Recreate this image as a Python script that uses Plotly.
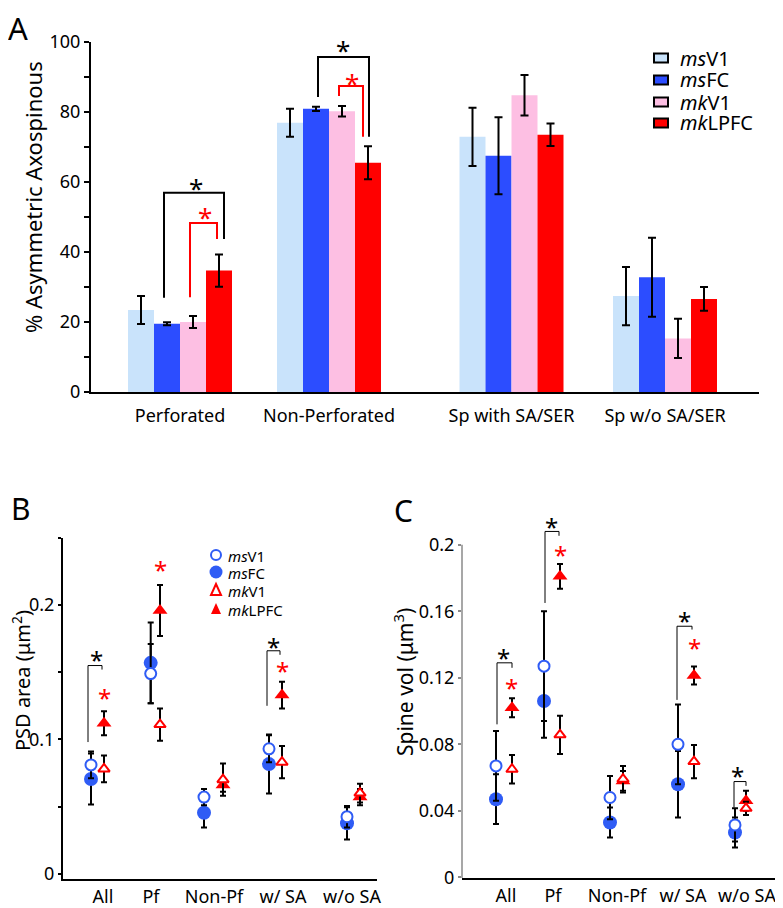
import plotly.graph_objects as go

# The page body adds an 8 px offset; figure is sized so the visible
# viewport (783x908) matches the reference layout.
OFF = 8
W, H = 783 - OFF, 908 - OFF
def px(x): return (x - OFF) / W
def py(y): return 1 - (y - OFF) / H

FONT = "Noto Sans"

# ---------------- Data ----------------
series_labels = ["<i>ms</i>V1", "<i>ms</i>FC", "<i>mk</i>V1", "<i>mk</i>LPFC"]

# Panel A: % asymmetric axospinous
groups_A = ["Perforated", "Non-Perforated", "Sp with SA/SER", "Sp w/o SA/SER"]
msV1_A = [23.4, 76.9, 72.9, 27.4]
msV1_A_err = [4.0, 4.0, 8.3, 8.3]
msFC_A = [19.5, 80.9, 67.5, 32.8]
msFC_A_err = [0.4, 0.6, 11.0, 11.3]
mkV1_A = [20.0, 80.2, 84.8, 15.3]
mkV1_A_err = [1.7, 1.5, 5.8, 5.6]
mkLPFC_A = [34.7, 65.5, 73.5, 26.6]
mkLPFC_A_err = [4.6, 4.7, 3.2, 3.4]

# Panel B: PSD area (um^2)
cats_B = ["All", "Pf", "Non-Pf", "w/ SA", "w/o SA"]
msV1_B = [0.081, 0.149, 0.057, 0.093, 0.0424]
msV1_B_err = [0.010, 0.022, 0.006, 0.010, 0.008]
msFC_B = [0.0705, 0.157, 0.0454, 0.0816, 0.0375]
msFC_B_err = [0.019, 0.030, 0.011, 0.022, 0.012]
mkV1_B = [0.078, 0.111, 0.070, 0.083, 0.060]
mkV1_B_err = [0.010, 0.012, 0.012, 0.012, 0.007]
mkLPFC_B = [0.112, 0.196, 0.066, 0.133, 0.057]
mkLPFC_B_err = [0.009, 0.019, 0.005, 0.010, 0.006]

# Panel C: spine volume (um^3)
cats_C = ["All", "Pf", "Non-Pf", "w/ SA", "w/o SA"]
msV1_C = [0.067, 0.127, 0.048, 0.080, 0.0315]
msV1_C_err = [0.021, 0.033, 0.013, 0.024, 0.010]
msFC_C = [0.047, 0.106, 0.033, 0.056, 0.027]
msFC_C_err = [0.015, 0.022, 0.009, 0.020, 0.009]
mkV1_C = [0.065, 0.0857, 0.059, 0.0696, 0.0415]
mkV1_C_err = [0.0085, 0.0115, 0.008, 0.010, 0.004]
mkLPFC_C = [0.102, 0.181, 0.058, 0.1214, 0.046]
mkLPFC_C_err = [0.0057, 0.0075, 0.006, 0.0054, 0.006]

# ---------------- Layout constants ----------------
LIGHTBLUE = "#c9e3fb"
BLUE_BAR = "#2c4dff"
PINK = "#fdbfe3"
RED = "#ff0000"
BLUE = "#2f5cf5"

centers_A = [180, 329, 511.5, 665]       # group centres (axis units = px)
BAR_W = 26
blue_x_B = [91, 150.7, 204, 269, 347]
red_x_B = [104, 160, 223, 282, 360]
label_x_B = [103, 151, 214, 283, 352]
blue_x_C = [496, 544, 610, 678, 735]
red_x_C = [512, 560, 623, 694, 746]
label_x_C = [506, 553, 617, 683, 747]

fig = go.Figure()

# ---- Panel A bars ----
bar_series = [
    (msV1_A, msV1_A_err, LIGHTBLUE),
    (msFC_A, msFC_A_err, BLUE_BAR),
    (mkV1_A, mkV1_A_err, PINK),
    (mkLPFC_A, mkLPFC_A_err, RED),
]
for i, (vals, errs, col) in enumerate(bar_series):
    fig.add_trace(go.Bar(
        x=[c + (i - 1.5) * BAR_W for c in centers_A], y=vals, width=BAR_W,
        marker=dict(color=col, line=dict(width=0)),
        error_y=dict(type="data", array=errs, color="black", thickness=2, width=4),
        xaxis="x", yaxis="y", showlegend=False, name=series_labels[i]))

# ---- Panels B and C points ----
def add_points(bx, rx, v1, v1e, fc, fce, mv1, mv1e, lp, lpe, xa, ya):
    err = lambda a: dict(type="data", array=a, color="black", thickness=2, width=3)
    fig.add_trace(go.Scatter(x=bx, y=fc, mode="markers", error_y=err(fce),
        marker=dict(symbol="circle", size=14, color=BLUE, line=dict(width=0)),
        xaxis=xa, yaxis=ya, showlegend=False, cliponaxis=False))
    fig.add_trace(go.Scatter(x=bx, y=v1, mode="markers", error_y=err(v1e),
        marker=dict(symbol="circle", size=11, color="white", line=dict(color=BLUE, width=2)),
        xaxis=xa, yaxis=ya, showlegend=False, cliponaxis=False))
    fig.add_trace(go.Scatter(x=rx, y=lp, mode="markers", error_y=err(lpe),
        marker=dict(symbol="triangle-up", size=13, color=RED, line=dict(width=0)),
        xaxis=xa, yaxis=ya, showlegend=False, cliponaxis=False))
    fig.add_trace(go.Scatter(x=rx, y=mv1, mode="markers", error_y=err(mv1e),
        marker=dict(symbol="triangle-up", size=10, color="white", line=dict(color=RED, width=2)),
        xaxis=xa, yaxis=ya, showlegend=False, cliponaxis=False))

add_points(blue_x_B, red_x_B, msV1_B, msV1_B_err, msFC_B, msFC_B_err,
           mkV1_B, mkV1_B_err, mkLPFC_B, mkLPFC_B_err, "x2", "y2")
add_points(blue_x_C, red_x_C, msV1_C, msV1_C_err, msFC_C, msFC_C_err,
           mkV1_C, mkV1_C_err, mkLPFC_C, mkLPFC_C_err, "x3", "y3")

shapes = []
annotations = []

def bracket(xl, yl, yt, xr, yr, col, w, xref, yref):
    shapes.append(dict(type="path", xref=xref, yref=yref,
                       path=f"M {xl},{yl} L {xl},{yt} L {xr},{yt} L {xr},{yr}",
                       line=dict(color=col, width=w)))

def star(x, y, col, size, xref, yref):
    annotations.append(dict(text="*", x=x, y=y, xref=xref, yref=yref, showarrow=False,
                            font=dict(family=FONT, size=size, color=col),
                            xanchor="center", yanchor="middle", yshift=-int(size * 0.22)))

# Panel A brackets
bracket(164, 26.9, 56.9, 224, 43.7, "black", 2, "x", "y")
bracket(190, 27.1, 48.3, 217, 43.7, RED, 2, "x", "y")
star(196, 59.7, "black", 26, "x", "y")
star(205, 51.4, RED, 26, "x", "y")
bracket(318, 84.3, 95.7, 369, 72.9, "black", 2, "x", "y")
bracket(339, 84.6, 87.4, 363, 72.9, RED, 2, "x", "y")
star(343, 99.1, "black", 26, "x", "y")
star(352, 89.7, RED, 26, "x", "y")

# Panel B brackets
bracket(88, 0.098, 0.155, 102, 0.152, "black", 1, "x2", "y2")
star(96, 0.163, "black", 24, "x2", "y2")
star(104, 0.1347, RED, 24, "x2", "y2")
star(160, 0.2305, RED, 24, "x2", "y2")
bracket(267, 0.125, 0.166, 280, 0.163, "black", 1, "x2", "y2")
star(273, 0.1726, "black", 24, "x2", "y2")
star(282, 0.155, RED, 24, "x2", "y2")

# Panel C brackets
bracket(497, 0.092, 0.129, 512, 0.126, "black", 1, "x3", "y3")
star(503, 0.135, "black", 24, "x3", "y3")
star(511, 0.117, RED, 24, "x3", "y3")
bracket(545, 0.165, 0.208, 559, 0.2054, "black", 1, "x3", "y3")
star(551, 0.214, "black", 24, "x3", "y3")
star(560, 0.197, RED, 24, "x3", "y3")
bracket(677, 0.1067, 0.151, 692, 0.149, "black", 1, "x3", "y3")
star(684, 0.1575, "black", 24, "x3", "y3")
star(694, 0.1414, RED, 24, "x3", "y3")
bracket(734, 0.042, 0.0576, 746, 0.055, "black", 1, "x3", "y3")
star(737, 0.064, "black", 24, "x3", "y3")

# Panel C y-axis line (grey, up to 0.2)
shapes.append(dict(type="line", xref="x3 domain", yref="y3", x0=0, x1=0, y0=-0.0004, y1=0.2,
                   line=dict(color="#8a8a8a", width=1.5)))

# Legend A (manual)
legA_y = [58, 80, 102, 123]
for lab, col, yy in zip(series_labels, [LIGHTBLUE, BLUE_BAR, PINK, RED], legA_y):
    shapes.append(dict(type="rect", xref="paper", yref="paper",
                       x0=px(654), x1=px(668), y0=py(yy + 4.5), y1=py(yy - 4.5),
                       fillcolor=col, line=dict(color="black", width=2)))
    annotations.append(dict(text=lab, x=px(678), y=py(yy), xref="paper", yref="paper",
                            showarrow=False, xanchor="left", yanchor="middle", height=21,
                            font=dict(family=FONT, size=20, color="black")))

# Legend B (manual)
legB_y = [555, 572, 590, 609]
cx = 216
shapes.append(dict(type="circle", xref="paper", yref="paper",
                   x0=px(cx - 5), x1=px(cx + 5), y0=py(legB_y[0] + 5), y1=py(legB_y[0] - 5),
                   fillcolor="white", line=dict(color=BLUE, width=2)))
shapes.append(dict(type="circle", xref="paper", yref="paper",
                   x0=px(cx - 6.5), x1=px(cx + 6.5), y0=py(legB_y[1] + 6.5), y1=py(legB_y[1] - 6.5),
                   fillcolor=BLUE, line=dict(color=BLUE, width=0)))
for yy, filled in [(legB_y[2], False), (legB_y[3], True)]:
    shapes.append(dict(type="path", xref="paper", yref="paper",
                       path=f"M {px(cx-5)},{py(yy+5)} L {px(cx+5)},{py(yy+5)} L {px(cx)},{py(yy-6)} Z",
                       fillcolor=RED if filled else "white",
                       line=dict(color=RED, width=0 if filled else 2)))
for lab, yy in zip(series_labels, legB_y):
    annotations.append(dict(text=lab, x=px(226), y=py(yy), xref="paper", yref="paper",
                            showarrow=False, xanchor="left", yanchor="middle", height=17,
                            font=dict(family=FONT, size=15, color="black")))

# Axis titles and panel letters
annotations += [
    dict(text="% Asymmetric Axospinous", x=px(33), y=py(197), xref="paper", yref="paper",
         showarrow=False, textangle=-90, xanchor="center", yanchor="middle",
         font=dict(family=FONT, size=22, color="black")),
    dict(text="PSD area (μm<sup>2</sup>)", x=px(21), y=py(681), xref="paper", yref="paper",
         showarrow=False, textangle=-90, xanchor="center", yanchor="middle",
         font=dict(family=FONT, size=20, color="black")),
    dict(text="Spine vol (μm<sup>3</sup>)", x=px(403), y=py(682), xref="paper", yref="paper",
         showarrow=False, textangle=-90, xanchor="center", yanchor="middle",
         font=dict(family=FONT, size=21, color="black")),
    dict(text="A", x=px(18), y=py(28), xref="paper", yref="paper", showarrow=False,
         xanchor="center", yanchor="middle", height=34,
         font=dict(family=FONT, size=31, color="black")),
    dict(text="B", x=px(21), y=py(508), xref="paper", yref="paper", showarrow=False,
         xanchor="center", yanchor="middle", height=34,
         font=dict(family=FONT, size=30, color="black")),
    dict(text="C", x=px(403), y=py(510), xref="paper", yref="paper", showarrow=False,
         xanchor="center", yanchor="middle", height=34,
         font=dict(family=FONT, size=30, color="black")),
]

tickfont = dict(family=FONT, size=18, color="black")
common = dict(showgrid=False, zeroline=False, tickfont=tickfont, automargin=False)

fig.update_layout(
    template="none",
    font=dict(family=FONT, color="black"),
    width=W, height=H, autosize=False,
    margin=dict(l=0, r=0, t=0, b=0, pad=0, autoexpand=False),
    paper_bgcolor="white", plot_bgcolor="white",
    barmode="overlay", showlegend=False,
    shapes=shapes, annotations=annotations,
    xaxis=dict(domain=[px(91), px(759)], range=[91, 759], showline=True, linecolor="black",
               linewidth=2, tickvals=centers_A, ticktext=groups_A, ticks="",
               ticklabelstandoff=6, **common),
    yaxis=dict(domain=[py(392), py(42)], range=[0, 100], showline=True, linecolor="black",
               linewidth=2, tickvals=[0, 20, 40, 60, 80, 100], ticks="outside", ticklen=5,
               tickwidth=1.5, tickcolor="black",
               minor=dict(tickvals=[10, 30, 50, 70, 90], ticks="outside", ticklen=5,
                          tickwidth=1.5, tickcolor="black"),
               **common),
    xaxis2=dict(domain=[px(63), px(377)], range=[63, 377], showline=True, linecolor="black",
                linewidth=2, tickvals=label_x_B, ticktext=cats_B, ticks="", anchor="y2", **common),
    yaxis2=dict(domain=[py(879), py(538)], range=[-0.004, 0.25], showline=True, linecolor="black",
                linewidth=2, tickvals=[0, 0.1, 0.2], ticktext=["0", "0.1", "0.2"],
                ticks="outside", ticklen=3, tickwidth=1.5, tickcolor="black", anchor="x2",
                minor=dict(tickvals=[0.05, 0.15, 0.25], ticks="outside", ticklen=3,
                           tickwidth=1.5, tickcolor="black"),
                **common),
    xaxis3=dict(domain=[px(462), px(777)], range=[462, 777], showline=True, linecolor="black",
                linewidth=2, tickvals=label_x_C, ticktext=cats_C, ticks="", anchor="y3", **common),
    yaxis3=dict(domain=[py(878), py(511.5)], range=[-0.0004, 0.22], showline=False,
                tickvals=[0, 0.04, 0.08, 0.12, 0.16, 0.2],
                ticktext=["0", "0.04", "0.08", "0.12", "0.16", "0.2"],
                ticks="outside", ticklen=3, tickwidth=1.5, tickcolor="#8a8a8a", anchor="x3",
                **common),
)

fig.write_html("out.html")
